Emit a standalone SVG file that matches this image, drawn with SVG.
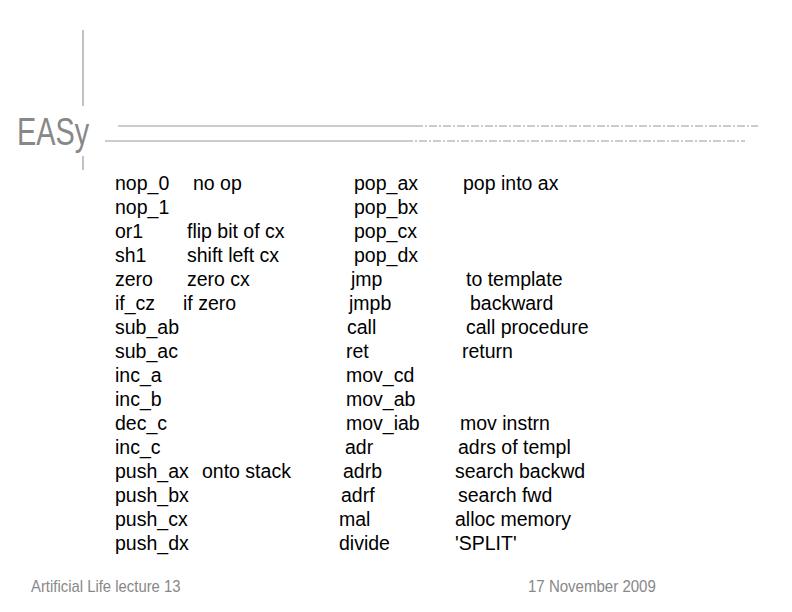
<svg xmlns="http://www.w3.org/2000/svg" width="792" height="612" viewBox="0 0 792 612">
<style>
.t{font-family:"Liberation Sans",Arial,sans-serif;font-size:19.5px;fill:#000}
.g{font-family:"Liberation Sans",Arial,sans-serif;fill:#888}
.l{stroke:#999;stroke-width:1.2}
.d{stroke:#999;stroke-width:1.2;stroke-dasharray:8 2 2 2}
</style>
<rect width="792" height="612" fill="#fff"/>
<g id="header">
<line class="l" x1="83" y1="30" x2="83" y2="106"/>
<line class="l" x1="83" y1="156" x2="83" y2="170"/>
<line class="l" x1="118" y1="126" x2="415" y2="126"/>
<line class="d" x1="415" y1="126" x2="758" y2="126"/>
<line class="l" x1="105" y1="141" x2="405" y2="141"/>
<line class="d" x1="405" y1="141" x2="745" y2="141"/>
<text class="g" x="17" y="145" font-size="38" transform="translate(17 0) scale(0.76 1) translate(-17 0)">EASy</text>
</g>
<g id="left" class="t">
<text x="115" y="190">nop_0</text><text x="193" y="190">no op</text>
<text x="115" y="214">nop_1</text>
<text x="115" y="238">or1</text><text x="187" y="238">flip bit of cx</text>
<text x="115" y="262">sh1</text><text x="187" y="262">shift left cx</text>
<text x="115" y="286">zero</text><text x="187" y="286">zero cx</text>
<text x="115" y="310">if_cz</text><text x="183" y="310">if zero</text>
<text x="115" y="334">sub_ab</text>
<text x="115" y="358">sub_ac</text>
<text x="115" y="382">inc_a</text>
<text x="115" y="406">inc_b</text>
<text x="115" y="430">dec_c</text>
<text x="115" y="454">inc_c</text>
<text x="115" y="478">push_ax</text><text x="202" y="478">onto stack</text>
<text x="115" y="502">push_bx</text>
<text x="115" y="526">push_cx</text>
<text x="115" y="550">push_dx</text>
</g>
<g id="right" class="t">
<text x="354" y="190">pop_ax</text><text x="463" y="190">pop into ax</text>
<text x="354" y="214">pop_bx</text>
<text x="354" y="238">pop_cx</text>
<text x="354" y="262">pop_dx</text>
<text x="351" y="286">jmp</text><text x="466" y="286">to template</text>
<text x="349" y="310">jmpb</text><text x="470" y="310">backward</text>
<text x="347" y="334">call</text><text x="466" y="334">call procedure</text>
<text x="346" y="358">ret</text><text x="462" y="358">return</text>
<text x="346" y="382">mov_cd</text>
<text x="346" y="406">mov_ab</text>
<text x="346" y="430">mov_iab</text><text x="460" y="430">mov instrn</text>
<text x="345" y="454">adr</text><text x="458" y="454">adrs of templ</text>
<text x="343" y="478">adrb</text><text x="455" y="478">search backwd</text>
<text x="341" y="502">adrf</text><text x="458" y="502">search fwd</text>
<text x="339" y="526">mal</text><text x="455" y="526">alloc memory</text>
<text x="339" y="550">divide</text><text x="455" y="550">'SPLIT'</text>
</g>
<g id="footer" class="g" font-size="16">
<text x="31" y="592" transform="translate(31 0) scale(0.93 1) translate(-31 0)">Artificial Life lecture 13</text>
<text x="528" y="592" transform="translate(528 0) scale(0.94 1) translate(-528 0)">17 November 2009</text>
</g>
</svg>
